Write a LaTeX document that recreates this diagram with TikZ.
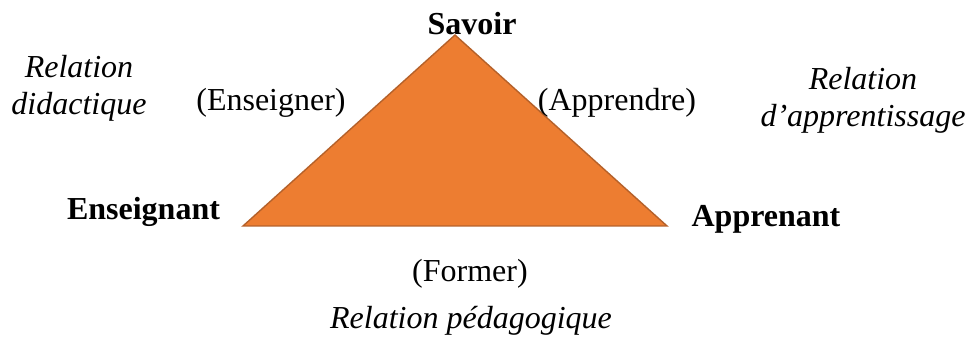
\documentclass[tikz,border=0pt]{standalone}
\usepackage{fontspec}
\setmainfont{Liberation Serif}
\definecolor{triFill}{HTML}{ED7D31}
\definecolor{triEdge}{HTML}{B5612A}
\begin{document}
\begin{tikzpicture}[x=1pt,y=-1pt,
  lbl/.style={inner sep=0pt,anchor=base,font=\fontsize{32}{37}\selectfont},
  pole/.style={lbl,font=\fontsize{32}{37}\selectfont\bfseries},
  rel/.style={lbl,align=center,font=\fontsize{32}{37}\selectfont\itshape},
]
\useasboundingbox (0,0) rectangle (968,347);

% the didactic triangle
\coordinate (top) at (455,35);
\coordinate (left) at (243,226);
\coordinate (right) at (667,226);
\filldraw[fill=triFill,draw=triEdge,line width=1.4pt,line join=miter] (top) -- (left) -- (right) -- cycle;

% poles
\node[pole] (savoir) at (472,35) {Savoir};
\node[pole] (enseignant) at (143.5,220) {Enseignant};
\node[pole] (apprenant) at (766,227) {Apprenant};

% actions on the sides
\node[lbl] (enseigner) at (271,111) {(Enseigner)};
\node[lbl] (apprendre) at (617,111) {(Apprendre)};
\node[lbl] (former) at (470,281) {(Former)};

% relations (base anchor sits on the last line)
\node[rel] (didactique) at (79,115) {Relation\\didactique};
\node[rel] (apprentissage) at (863,127) {Relation\\d’apprentissage};
\node[rel] (pedagogique) at (471,328) {Relation pédagogique};
\end{tikzpicture}
\end{document}
